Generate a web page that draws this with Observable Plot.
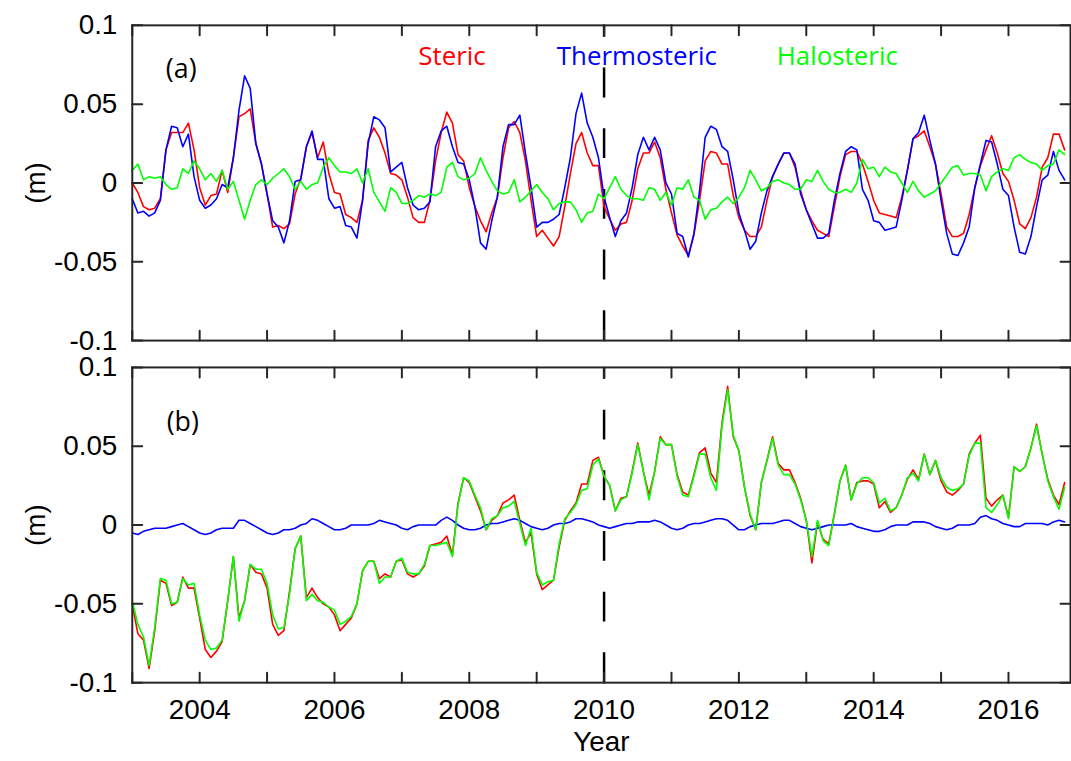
<!DOCTYPE html>
<html><head><meta charset="utf-8">
<script src="https://cdn.jsdelivr.net/npm/d3@7"></script>
<script src="https://cdn.jsdelivr.net/npm/@observablehq/plot@0.6"></script>
<style>
html,body{margin:0;padding:0;background:#fff;overflow:hidden;}
#chart{position:relative;width:1071px;height:761px;overflow:hidden;}
</style></head><body><div id="chart"></div>
<script>
// monthly series starting January 2003
const startYear = 2003;
const yearTicks = [2003,2004,2005,2006,2007,2008,2009,2010,2011,2012,2013,2014,2015,2016];
const labelYears = [2004,2006,2008,2010,2012,2014,2016];
const valueTicks = [-0.1,-0.05,0,0.05,0.1];
const seriesNames = ["Steric","Thermosteric","Halosteric"];
const seriesColors = ["#ff0000","#0000ff","#00ff00"];
const panelKeys = ["a","b"];
const markerYear = [2010];

// panel (a)
const stericA = [0.000,-0.006,-0.015,-0.017,-0.016,-0.010,0.021,0.032,0.032,0.032,0.038,0.021,-0.003,-0.014,-0.008,-0.007,0.008,-0.006,0.016,0.042,0.044,0.047,0.025,0.012,-0.007,-0.028,-0.027,-0.029,-0.026,-0.007,0.003,0.023,0.032,0.016,0.026,0.006,-0.006,-0.007,-0.020,-0.022,-0.025,-0.011,0.027,0.035,0.029,0.019,0.006,0.005,0.002,-0.009,-0.022,-0.025,-0.025,-0.011,0.014,0.032,0.045,0.038,0.018,0.014,-0.003,-0.015,-0.024,-0.031,-0.019,-0.009,0.016,0.035,0.039,0.032,0.014,-0.011,-0.034,-0.030,-0.035,-0.040,-0.034,-0.015,0.006,0.025,0.032,0.019,0.011,0.011,-0.015,-0.023,-0.030,-0.026,-0.025,-0.011,0.009,0.019,0.019,0.026,0.016,-0.004,-0.019,-0.033,-0.040,-0.046,-0.033,-0.011,0.014,0.020,0.019,0.012,0.012,-0.008,-0.022,-0.030,-0.034,-0.034,-0.028,-0.011,0.004,0.012,0.019,0.019,0.010,-0.005,-0.017,-0.024,-0.030,-0.032,-0.034,-0.015,0.004,0.018,0.020,0.020,0.012,0.001,-0.011,-0.019,-0.020,-0.021,-0.022,-0.009,0.008,0.028,0.030,0.033,0.023,0.012,-0.007,-0.028,-0.034,-0.034,-0.032,-0.020,-0.003,0.011,0.021,0.030,0.019,0.006,0.001,-0.011,-0.026,-0.029,-0.022,-0.009,0.010,0.016,0.031,0.031,0.021];
const thermoA = [-0.010,-0.019,-0.018,-0.021,-0.019,-0.011,0.021,0.036,0.035,0.023,0.031,0.004,-0.011,-0.016,-0.014,-0.010,-0.001,-0.003,0.016,0.046,0.068,0.060,0.025,0.012,-0.007,-0.024,-0.028,-0.038,-0.024,0.001,0.002,0.023,0.033,0.015,0.015,-0.010,-0.016,-0.015,-0.027,-0.028,-0.035,-0.011,0.025,0.042,0.040,0.035,0.007,0.010,0.013,-0.003,-0.014,-0.017,-0.016,-0.012,0.023,0.033,0.036,0.023,0.013,0.012,0.002,-0.015,-0.038,-0.042,-0.024,-0.009,0.023,0.037,0.037,0.043,0.019,-0.003,-0.028,-0.025,-0.025,-0.023,-0.020,-0.003,0.016,0.044,0.057,0.038,0.029,0.016,-0.009,-0.022,-0.034,-0.024,-0.019,-0.003,0.018,0.029,0.021,0.029,0.021,0.000,-0.007,-0.032,-0.034,-0.047,-0.032,-0.005,0.029,0.036,0.034,0.023,0.020,0.002,-0.019,-0.030,-0.042,-0.037,-0.019,-0.005,0.004,0.012,0.019,0.019,0.012,-0.007,-0.017,-0.026,-0.035,-0.035,-0.032,-0.011,0.006,0.020,0.023,0.021,-0.004,-0.011,-0.024,-0.025,-0.030,-0.029,-0.028,-0.011,0.008,0.028,0.032,0.043,0.027,0.012,-0.011,-0.032,-0.045,-0.046,-0.038,-0.028,-0.003,0.012,0.027,0.026,0.012,-0.004,-0.008,-0.028,-0.044,-0.045,-0.034,-0.015,0.002,0.005,0.020,0.008,0.002];
const haloA = [0.008,0.012,0.002,0.004,0.003,0.004,-0.001,-0.004,-0.003,0.009,0.006,0.014,0.009,0.002,0.006,0.001,0.008,-0.004,0.001,-0.011,-0.023,-0.011,-0.001,0.002,-0.001,0.003,0.006,0.009,0.004,-0.004,0.001,-0.004,-0.001,0.000,0.010,0.016,0.011,0.007,0.007,0.006,0.009,0.000,0.009,-0.006,-0.012,-0.018,-0.003,-0.006,-0.013,-0.013,-0.011,-0.008,-0.009,-0.007,-0.008,-0.006,0.010,0.013,0.004,0.002,0.003,0.006,0.016,0.008,0.001,-0.005,-0.007,-0.006,0.002,-0.012,-0.009,-0.005,-0.001,-0.006,-0.010,-0.017,-0.013,-0.012,-0.012,-0.017,-0.025,-0.019,-0.018,-0.007,-0.010,-0.003,0.004,-0.004,-0.008,-0.010,-0.010,-0.011,-0.003,-0.004,-0.011,-0.006,-0.014,-0.003,-0.004,0.002,-0.009,-0.011,-0.023,-0.017,-0.016,-0.012,-0.009,-0.013,-0.009,-0.003,0.008,0.002,-0.005,-0.003,0.001,0.002,0.000,-0.001,-0.004,-0.004,0.002,0.001,0.008,0.001,-0.004,-0.006,-0.006,-0.004,-0.006,0.000,0.015,0.009,0.010,0.004,0.010,0.007,0.006,0.000,-0.006,0.001,-0.005,-0.009,-0.007,-0.005,0.000,0.005,0.010,0.011,0.005,0.006,0.006,0.005,-0.005,0.004,0.007,0.009,0.008,0.016,0.018,0.015,0.013,0.012,0.008,0.011,0.012,0.021,0.018];

// panel (b)
const stericB = [-0.050,-0.069,-0.073,-0.091,-0.067,-0.035,-0.037,-0.051,-0.049,-0.033,-0.040,-0.040,-0.059,-0.079,-0.084,-0.080,-0.074,-0.048,-0.020,-0.059,-0.048,-0.025,-0.030,-0.031,-0.040,-0.063,-0.070,-0.067,-0.042,-0.015,-0.007,-0.046,-0.040,-0.046,-0.050,-0.052,-0.057,-0.067,-0.063,-0.059,-0.050,-0.029,-0.023,-0.023,-0.034,-0.031,-0.033,-0.023,-0.022,-0.031,-0.033,-0.031,-0.026,-0.013,-0.012,-0.011,-0.007,-0.019,0.014,0.030,0.027,0.018,0.009,-0.003,0.003,0.006,0.014,0.016,0.019,0.003,-0.011,-0.005,-0.031,-0.041,-0.038,-0.035,-0.014,0.003,0.009,0.014,0.026,0.026,0.041,0.043,0.031,0.025,0.009,0.017,0.018,0.034,0.052,0.034,0.019,0.034,0.056,0.051,0.051,0.032,0.021,0.019,0.032,0.046,0.049,0.033,0.027,0.065,0.088,0.056,0.047,0.024,0.006,-0.003,0.027,0.041,0.056,0.039,0.035,0.035,0.027,0.017,0.003,-0.024,0.002,-0.009,-0.012,0.007,0.028,0.038,0.016,0.027,0.028,0.028,0.026,0.011,0.015,0.008,0.011,0.019,0.029,0.035,0.029,0.045,0.032,0.041,0.028,0.021,0.019,0.022,0.026,0.045,0.052,0.057,0.017,0.012,0.016,0.019,0.005,0.037,0.034,0.037,0.049,0.064,0.045,0.029,0.019,0.013,0.027];
const thermoB = [-0.005,-0.006,-0.004,-0.003,-0.002,-0.002,-0.002,-0.001,0.000,0.001,-0.001,-0.003,-0.005,-0.006,-0.005,-0.003,-0.002,-0.002,-0.002,0.003,0.003,0.001,-0.001,-0.003,-0.005,-0.006,-0.005,-0.003,-0.003,-0.002,0.000,0.001,0.004,0.003,0.001,-0.001,-0.003,-0.003,-0.002,0.000,0.000,0.000,0.000,0.001,0.003,0.002,0.001,0.000,-0.002,-0.003,-0.001,0.000,0.000,0.000,0.000,0.003,0.005,0.003,0.000,-0.002,-0.003,-0.003,-0.002,0.000,0.001,0.001,0.002,0.003,0.004,0.003,0.001,-0.001,-0.002,-0.003,-0.002,0.000,0.001,0.001,0.002,0.004,0.004,0.003,0.002,0.000,-0.001,-0.002,-0.001,0.000,0.001,0.001,0.002,0.002,0.002,0.003,0.002,0.000,-0.002,-0.003,-0.002,0.000,0.001,0.001,0.002,0.003,0.004,0.004,0.003,0.000,-0.003,-0.003,-0.001,0.000,0.001,0.001,0.001,0.002,0.003,0.003,0.001,-0.001,-0.002,-0.003,-0.002,-0.001,0.000,0.000,0.000,0.000,0.001,-0.001,-0.002,-0.003,-0.004,-0.004,-0.003,-0.001,0.000,0.000,0.000,0.002,0.002,0.002,0.001,-0.001,-0.002,-0.003,-0.002,0.000,0.000,0.000,0.001,0.005,0.006,0.004,0.003,0.001,0.000,-0.001,-0.001,0.001,0.001,0.001,0.001,0.000,0.002,0.003,0.002];
const haloB = [-0.048,-0.063,-0.071,-0.089,-0.065,-0.034,-0.035,-0.050,-0.049,-0.034,-0.038,-0.037,-0.057,-0.073,-0.079,-0.078,-0.073,-0.048,-0.020,-0.061,-0.048,-0.025,-0.028,-0.028,-0.037,-0.057,-0.066,-0.065,-0.044,-0.015,-0.007,-0.048,-0.044,-0.048,-0.049,-0.052,-0.054,-0.063,-0.061,-0.058,-0.050,-0.029,-0.023,-0.023,-0.037,-0.033,-0.033,-0.023,-0.021,-0.030,-0.031,-0.031,-0.025,-0.013,-0.013,-0.012,-0.011,-0.020,0.013,0.030,0.028,0.019,0.011,-0.003,0.004,0.006,0.011,0.012,0.015,0.001,-0.013,-0.002,-0.030,-0.038,-0.036,-0.035,-0.012,0.004,0.008,0.013,0.022,0.023,0.038,0.042,0.031,0.025,0.009,0.016,0.018,0.033,0.051,0.034,0.016,0.034,0.055,0.051,0.051,0.031,0.019,0.018,0.031,0.045,0.045,0.030,0.022,0.063,0.086,0.057,0.047,0.024,0.007,-0.003,0.027,0.041,0.055,0.038,0.032,0.032,0.026,0.016,0.003,-0.020,0.003,-0.010,-0.013,0.007,0.028,0.038,0.016,0.026,0.030,0.030,0.027,0.014,0.017,0.009,0.011,0.019,0.030,0.033,0.028,0.045,0.032,0.041,0.030,0.024,0.022,0.023,0.026,0.044,0.052,0.052,0.011,0.008,0.013,0.019,0.004,0.037,0.034,0.037,0.049,0.063,0.045,0.028,0.018,0.010,0.024];

const seriesByPanel = {a: [stericA, thermoA, haloA], b: [stericB, thermoB, haloB]};

const ink = "#262626";
const axisFont = "'Liberation Sans', Arial, Helvetica, sans-serif";
const textFont = "'Open Sans', 'Noto Sans', sans-serif";
const tickLen = 10;
const W = 1077, H = 761, ML = 132.5, MR = 1, MT = 25, MB = 75;
const panelGap = 27;
const panelH = (H - MT - MB - panelGap) / 2;
const tickShape = {draw(context, l) { context.moveTo(0, 0); context.lineTo(0, -l); }};

function rowsFor(panel, arr) { return arr.map((v, i) => ({panel, t: startYear + i / 12, v})); }

const tick = {length: tickLen, anchor: "start", shape: tickShape, stroke: ink, strokeWidth: 2};

const marks = [
  Plot.ruleX(markerYear, {y1: -0.1, y2: 0.1, stroke: "#000", strokeWidth: 2.5, strokeDasharray: "30,31"}),
  ...panelKeys.flatMap(p => seriesByPanel[p].map((arr, k) =>
    Plot.line(rowsFor(p, arr), {x: "t", y: "v", fy: "panel", stroke: seriesColors[k], strokeWidth: 1.6}))),
  Plot.frame({stroke: ink, strokeWidth: 2}),
  // inward-pointing ticks on all four sides of each panel
  Plot.vector(yearTicks, {x: d => d, frameAnchor: "bottom", rotate: 0, ...tick}),
  Plot.vector(yearTicks, {x: d => d, frameAnchor: "top", rotate: 180, ...tick}),
  Plot.vector(valueTicks, {y: d => d, frameAnchor: "left", rotate: 90, ...tick}),
  Plot.vector(valueTicks, {y: d => d, frameAnchor: "right", rotate: -90, ...tick}),
  Plot.axisY(valueTicks, {anchor: "left", tickSize: 0, tickPadding: 15, tickFormat: d => String(d), fontSize: 28, fontFamily: axisFont, fill: "#000", label: null}),
  Plot.axisX(labelYears, {anchor: "bottom", tickSize: 0, tickPadding: 17, tickFormat: d => String(d), fontSize: 28, fontFamily: axisFont, fill: "#000", label: null}),
  Plot.text(["(m)"], {frameAnchor: "left", dx: -96.5, rotate: -90, textAnchor: "middle", lineAnchor: "middle", fontSize: 28, fontFamily: axisFont, fill: "#000"}),
  Plot.text(["(a)"], {fy: ["a"], frameAnchor: "top-left", dx: 49.2, dy: 33.8, fontSize: 27, fontFamily: textFont, textAnchor: "middle", fill: "#000"}),
  Plot.text(["(b)"], {fy: ["b"], frameAnchor: "top-left", dx: 50.8, dy: 45, fontSize: 27, fontFamily: textFont, textAnchor: "middle", fill: "#000"}),
  Plot.text(["Year"], {fy: ["b"], frameAnchor: "bottom", dy: 60, lineAnchor: "middle", textAnchor: "middle", fontSize: 28, fontFamily: axisFont, fill: "#000"})
];
const legendDx = [321.5, 507.5, 709];
seriesNames.forEach((name, k) => {
  marks.push(Plot.text([name], {fy: ["a"], frameAnchor: "top-left", dx: legendDx[k], dy: 21.5, fontSize: 26, fontFamily: textFont, textAnchor: "middle", fill: seriesColors[k]}));
});

const svg = Plot.plot({
  width: W,
  height: H,
  marginLeft: ML,
  marginRight: MR,
  marginTop: MT,
  marginBottom: MB,
  x: {domain: [2003, 2016.92]},
  y: {domain: [-0.1, 0.1]},
  fy: {domain: panelKeys, axis: null, paddingInner: panelGap / (panelH + panelGap), paddingOuter: 0, round: false},
  style: {fontFamily: axisFont, fontSize: "28px", color: "#000", background: "#fff", overflow: "visible"},
  marks
});
document.getElementById("chart").appendChild(svg);
</script>
</body></html>
